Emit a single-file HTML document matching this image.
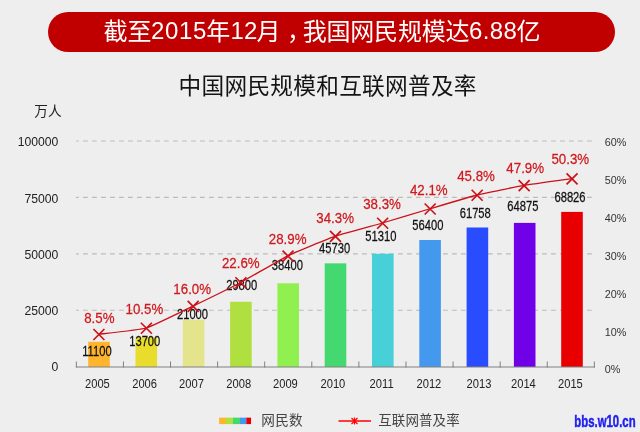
<!DOCTYPE html>
<html lang="zh-CN"><head><meta charset="utf-8"><title>中国网民规模和互联网普及率</title>
<style>html,body{margin:0;padding:0;background:#eeeeee;}body{width:640px;height:432px;overflow:hidden;}svg{display:block;}text{font-family:"Liberation Sans", "Noto Sans CJK SC", sans-serif;}</style>
</head><body>
<svg width="640" height="432" viewBox="0 0 640 432">
<rect x="0" y="0" width="640" height="432" fill="#eeeeee"/>
<rect x="48" y="12" width="567" height="40" rx="20" ry="20" fill="#c00000"/>
<text font-size="24" fill="#ffffff"><tspan x="103.5" y="40.2">截至</tspan><tspan x="151.1" y="38.9" letter-spacing="0.6">2015</tspan><tspan x="206.3" y="40.2">年</tspan><tspan x="230.6" y="38.9">12</tspan><tspan x="256.5" y="40.2">月</tspan><tspan x="287" y="40.2">，</tspan><tspan x="302.7" y="40.2" letter-spacing="-0.2">我国网民规模达</tspan><tspan x="469" y="38.9" letter-spacing="0.4">6.88</tspan><tspan x="516.5" y="40.2">亿</tspan></text>
<text x="178.6" y="94.2" font-size="22.7" letter-spacing="0.25" fill="#141414">中国网民规模和互联网普及率</text>
<text x="34.3" y="115.5" font-size="13.6" fill="#222222">万人</text>
<line x1="76" y1="310.30" x2="595" y2="310.30" stroke="#bcbcbc" stroke-width="1.1" stroke-dasharray="4.8 4.2" stroke-dashoffset="2"/>
<line x1="76" y1="253.85" x2="595" y2="253.85" stroke="#bcbcbc" stroke-width="1.1" stroke-dasharray="4.8 4.2" stroke-dashoffset="2"/>
<line x1="76" y1="197.40" x2="595" y2="197.40" stroke="#bcbcbc" stroke-width="1.1" stroke-dasharray="4.8 4.2" stroke-dashoffset="2"/>
<line x1="76" y1="140.95" x2="595" y2="140.95" stroke="#bcbcbc" stroke-width="1.1" stroke-dasharray="4.8 4.2" stroke-dashoffset="2"/>
<text x="58.3" y="370.80" font-size="12.2" fill="#222222" text-anchor="end">0</text>
<text x="58.3" y="314.72" font-size="12.2" fill="#222222" text-anchor="end">25000</text>
<text x="58.3" y="258.64" font-size="12.2" fill="#222222" text-anchor="end">50000</text>
<text x="58.3" y="202.56" font-size="12.2" fill="#222222" text-anchor="end">75000</text>
<text x="58.3" y="146.48" font-size="12.2" fill="#222222" text-anchor="end">100000</text>
<text x="604.8" y="373.35" font-size="10.8" fill="#333333">0%</text>
<text x="604.8" y="335.50" font-size="10.8" fill="#333333">10%</text>
<text x="604.8" y="297.65" font-size="10.8" fill="#333333">20%</text>
<text x="604.8" y="259.80" font-size="10.8" fill="#333333">30%</text>
<text x="604.8" y="221.95" font-size="10.8" fill="#333333">40%</text>
<text x="604.8" y="184.10" font-size="10.8" fill="#333333">50%</text>
<text x="604.8" y="146.25" font-size="10.8" fill="#333333">60%</text>
<rect x="88.20" y="341.75" width="21.60" height="25.25" fill="#ffb42d"/>
<rect x="135.50" y="337.20" width="21.60" height="29.80" fill="#e8dc2c"/>
<rect x="182.80" y="319.70" width="21.60" height="47.30" fill="#e4e48c"/>
<rect x="230.10" y="301.80" width="21.60" height="65.20" fill="#b0e040"/>
<rect x="277.40" y="283.30" width="21.60" height="83.70" fill="#90f050"/>
<rect x="324.70" y="263.35" width="21.60" height="103.65" fill="#44d870"/>
<rect x="372.00" y="253.75" width="21.60" height="113.25" fill="#48d0d8"/>
<rect x="419.30" y="240.00" width="21.60" height="127.00" fill="#4499ee"/>
<rect x="466.60" y="227.50" width="21.60" height="139.50" fill="#2a4cff"/>
<rect x="513.90" y="222.90" width="21.60" height="144.10" fill="#7000e8"/>
<rect x="561.20" y="211.90" width="21.60" height="155.10" fill="#e80000"/>
<line x1="75.85" y1="367.00" x2="595" y2="367.00" stroke="#808080" stroke-width="1"/>
<line x1="76.35" y1="361.5" x2="76.35" y2="367.50" stroke="#808080" stroke-width="1"/>
<line x1="123.44" y1="361.5" x2="123.44" y2="367.50" stroke="#808080" stroke-width="1"/>
<line x1="170.53" y1="361.5" x2="170.53" y2="367.50" stroke="#808080" stroke-width="1"/>
<line x1="217.62" y1="361.5" x2="217.62" y2="367.50" stroke="#808080" stroke-width="1"/>
<line x1="264.71" y1="361.5" x2="264.71" y2="367.50" stroke="#808080" stroke-width="1"/>
<line x1="311.80" y1="361.5" x2="311.80" y2="367.50" stroke="#808080" stroke-width="1"/>
<line x1="358.89" y1="361.5" x2="358.89" y2="367.50" stroke="#808080" stroke-width="1"/>
<line x1="405.98" y1="361.5" x2="405.98" y2="367.50" stroke="#808080" stroke-width="1"/>
<line x1="453.07" y1="361.5" x2="453.07" y2="367.50" stroke="#808080" stroke-width="1"/>
<line x1="500.16" y1="361.5" x2="500.16" y2="367.50" stroke="#808080" stroke-width="1"/>
<line x1="547.25" y1="361.5" x2="547.25" y2="367.50" stroke="#808080" stroke-width="1"/>
<line x1="594.34" y1="361.5" x2="594.34" y2="367.50" stroke="#808080" stroke-width="1"/>
<text transform="translate(97.40 387.7) scale(0.93 1)" font-size="12" fill="#222222" text-anchor="middle">2005</text>
<text transform="translate(144.60 387.7) scale(0.93 1)" font-size="12" fill="#222222" text-anchor="middle">2006</text>
<text transform="translate(191.50 387.7) scale(0.93 1)" font-size="12" fill="#222222" text-anchor="middle">2007</text>
<text transform="translate(238.75 387.7) scale(0.93 1)" font-size="12" fill="#222222" text-anchor="middle">2008</text>
<text transform="translate(285.40 387.7) scale(0.93 1)" font-size="12" fill="#222222" text-anchor="middle">2009</text>
<text transform="translate(332.90 387.7) scale(0.93 1)" font-size="12" fill="#222222" text-anchor="middle">2010</text>
<text transform="translate(381.60 387.7) scale(0.93 1)" font-size="12" fill="#222222" text-anchor="middle">2011</text>
<text transform="translate(428.90 387.7) scale(0.93 1)" font-size="12" fill="#222222" text-anchor="middle">2012</text>
<text transform="translate(479.00 387.7) scale(0.93 1)" font-size="12" fill="#222222" text-anchor="middle">2013</text>
<text transform="translate(523.40 387.7) scale(0.93 1)" font-size="12" fill="#222222" text-anchor="middle">2014</text>
<text transform="translate(570.40 387.7) scale(0.93 1)" font-size="12" fill="#222222" text-anchor="middle">2015</text>
<text transform="translate(96.90 356.25) scale(0.8 1)" font-size="14" fill="#111111" stroke="#111111" stroke-width="0.25" text-anchor="middle">11100</text>
<text transform="translate(144.75 345.75) scale(0.8 1)" font-size="14" fill="#111111" stroke="#111111" stroke-width="0.25" text-anchor="middle">13700</text>
<text transform="translate(192.50 318.50) scale(0.8 1)" font-size="14" fill="#111111" stroke="#111111" stroke-width="0.25" text-anchor="middle">21000</text>
<text transform="translate(241.70 290.40) scale(0.8 1)" font-size="14" fill="#111111" stroke="#111111" stroke-width="0.25" text-anchor="middle">29800</text>
<text transform="translate(287.30 270.25) scale(0.8 1)" font-size="14" fill="#111111" stroke="#111111" stroke-width="0.25" text-anchor="middle">38400</text>
<text transform="translate(334.65 253.00) scale(0.8 1)" font-size="14" fill="#111111" stroke="#111111" stroke-width="0.25" text-anchor="middle">45730</text>
<text transform="translate(380.90 240.50) scale(0.8 1)" font-size="14" fill="#111111" stroke="#111111" stroke-width="0.25" text-anchor="middle">51310</text>
<text transform="translate(427.90 230.00) scale(0.8 1)" font-size="14" fill="#111111" stroke="#111111" stroke-width="0.25" text-anchor="middle">56400</text>
<text transform="translate(475.25 217.50) scale(0.8 1)" font-size="14" fill="#111111" stroke="#111111" stroke-width="0.25" text-anchor="middle">61758</text>
<text transform="translate(522.90 210.80) scale(0.8 1)" font-size="14" fill="#111111" stroke="#111111" stroke-width="0.25" text-anchor="middle">64875</text>
<text transform="translate(570.00 201.80) scale(0.8 1)" font-size="14" fill="#111111" stroke="#111111" stroke-width="0.25" text-anchor="middle">68826</text>
<path d="M98.75 334.25 C101.60 333.88 140.59 329.69 146.25 328.00 C151.91 326.31 187.33 308.83 193.00 306.10 C198.67 303.37 235.06 285.52 240.75 282.50 C246.44 279.48 282.23 258.58 287.90 255.80 C293.57 253.02 329.62 238.17 335.30 236.20 C340.98 234.23 376.82 224.65 382.50 223.00 C388.18 221.35 424.33 210.43 430.00 208.75 C435.67 207.07 471.36 196.40 477.00 195.00 C482.64 193.60 518.31 186.38 524.00 185.40 C529.69 184.42 569.03 179.01 571.90 178.60" fill="none" stroke="#cc1118" stroke-width="1.3"/>
<path d="M93.40 329.00 L104.40 340.00 M93.40 340.00 L104.40 329.00" fill="none" stroke="#cc1118" stroke-width="1.7"/>
<path d="M140.90 322.75 L151.90 333.75 M140.90 333.75 L151.90 322.75" fill="none" stroke="#cc1118" stroke-width="1.7"/>
<path d="M187.65 300.85 L198.65 311.85 M187.65 311.85 L198.65 300.85" fill="none" stroke="#cc1118" stroke-width="1.7"/>
<path d="M235.40 277.25 L246.40 288.25 M235.40 288.25 L246.40 277.25" fill="none" stroke="#cc1118" stroke-width="1.7"/>
<path d="M282.55 250.55 L293.55 261.55 M282.55 261.55 L293.55 250.55" fill="none" stroke="#cc1118" stroke-width="1.7"/>
<path d="M329.95 230.95 L340.95 241.95 M329.95 241.95 L340.95 230.95" fill="none" stroke="#cc1118" stroke-width="1.7"/>
<path d="M377.15 217.75 L388.15 228.75 M377.15 228.75 L388.15 217.75" fill="none" stroke="#cc1118" stroke-width="1.7"/>
<path d="M424.65 203.50 L435.65 214.50 M424.65 214.50 L435.65 203.50" fill="none" stroke="#cc1118" stroke-width="1.7"/>
<path d="M471.65 189.75 L482.65 200.75 M471.65 200.75 L482.65 189.75" fill="none" stroke="#cc1118" stroke-width="1.7"/>
<path d="M518.65 180.15 L529.65 191.15 M518.65 191.15 L529.65 180.15" fill="none" stroke="#cc1118" stroke-width="1.7"/>
<path d="M566.55 173.35 L577.55 184.35 M566.55 184.35 L577.55 173.35" fill="none" stroke="#cc1118" stroke-width="1.7"/>
<text transform="translate(99.30 322.60) scale(0.875 1)" font-size="15.2" fill="#d0181c" stroke="#d0181c" stroke-width="0.25" text-anchor="middle">8.5%</text>
<text transform="translate(144.40 314.35) scale(0.875 1)" font-size="15.2" fill="#d0181c" stroke="#d0181c" stroke-width="0.25" text-anchor="middle">10.5%</text>
<text transform="translate(192.20 293.50) scale(0.875 1)" font-size="15.2" fill="#d0181c" stroke="#d0181c" stroke-width="0.25" text-anchor="middle">16.0%</text>
<text transform="translate(240.80 267.90) scale(0.875 1)" font-size="15.2" fill="#d0181c" stroke="#d0181c" stroke-width="0.25" text-anchor="middle">22.6%</text>
<text transform="translate(287.60 244.00) scale(0.875 1)" font-size="15.2" fill="#d0181c" stroke="#d0181c" stroke-width="0.25" text-anchor="middle">28.9%</text>
<text transform="translate(335.15 223.20) scale(0.875 1)" font-size="15.2" fill="#d0181c" stroke="#d0181c" stroke-width="0.25" text-anchor="middle">34.3%</text>
<text transform="translate(382.05 208.60) scale(0.875 1)" font-size="15.2" fill="#d0181c" stroke="#d0181c" stroke-width="0.25" text-anchor="middle">38.3%</text>
<text transform="translate(428.80 195.10) scale(0.875 1)" font-size="15.2" fill="#d0181c" stroke="#d0181c" stroke-width="0.25" text-anchor="middle">42.1%</text>
<text transform="translate(476.05 181.35) scale(0.875 1)" font-size="15.2" fill="#d0181c" stroke="#d0181c" stroke-width="0.25" text-anchor="middle">45.8%</text>
<text transform="translate(525.20 173.10) scale(0.875 1)" font-size="15.2" fill="#d0181c" stroke="#d0181c" stroke-width="0.25" text-anchor="middle">47.9%</text>
<text transform="translate(570.30 164.30) scale(0.875 1)" font-size="15.2" fill="#d0181c" stroke="#d0181c" stroke-width="0.25" text-anchor="middle">50.3%</text>
<rect x="219.10" y="417.65" width="7.10" height="6.45" fill="#ffb42d"/>
<rect x="225.90" y="417.65" width="7.40" height="6.45" fill="#b0e040"/>
<rect x="233.00" y="417.65" width="7.30" height="6.45" fill="#44d870"/>
<rect x="240.00" y="417.65" width="6.70" height="6.45" fill="#4499ee"/>
<rect x="246.40" y="417.65" width="4.65" height="6.45" fill="#e80000"/>
<text x="261.3" y="424.8" font-size="13.6" letter-spacing="0.3" fill="#444444">网民数</text>
<line x1="338.5" y1="421" x2="371" y2="421" stroke="#ff0000" stroke-width="1.3"/>
<path d="M351.5 418 L357.5 424 M351.5 424 L357.5 418 M354.5 417.5 L354.5 424.5" stroke="#ff0000" stroke-width="1.2" fill="none"/>
<text x="378.2" y="424.8" font-size="13.5" letter-spacing="0.1" fill="#444444">互联网普及率</text>
<text transform="translate(574.3 426.9) scale(0.69 1)" font-size="16.5" font-weight="bold" fill="#2020f0" stroke="#2020f0" stroke-width="0.5">bbs.w10.cn</text>
</svg>
</body></html>
